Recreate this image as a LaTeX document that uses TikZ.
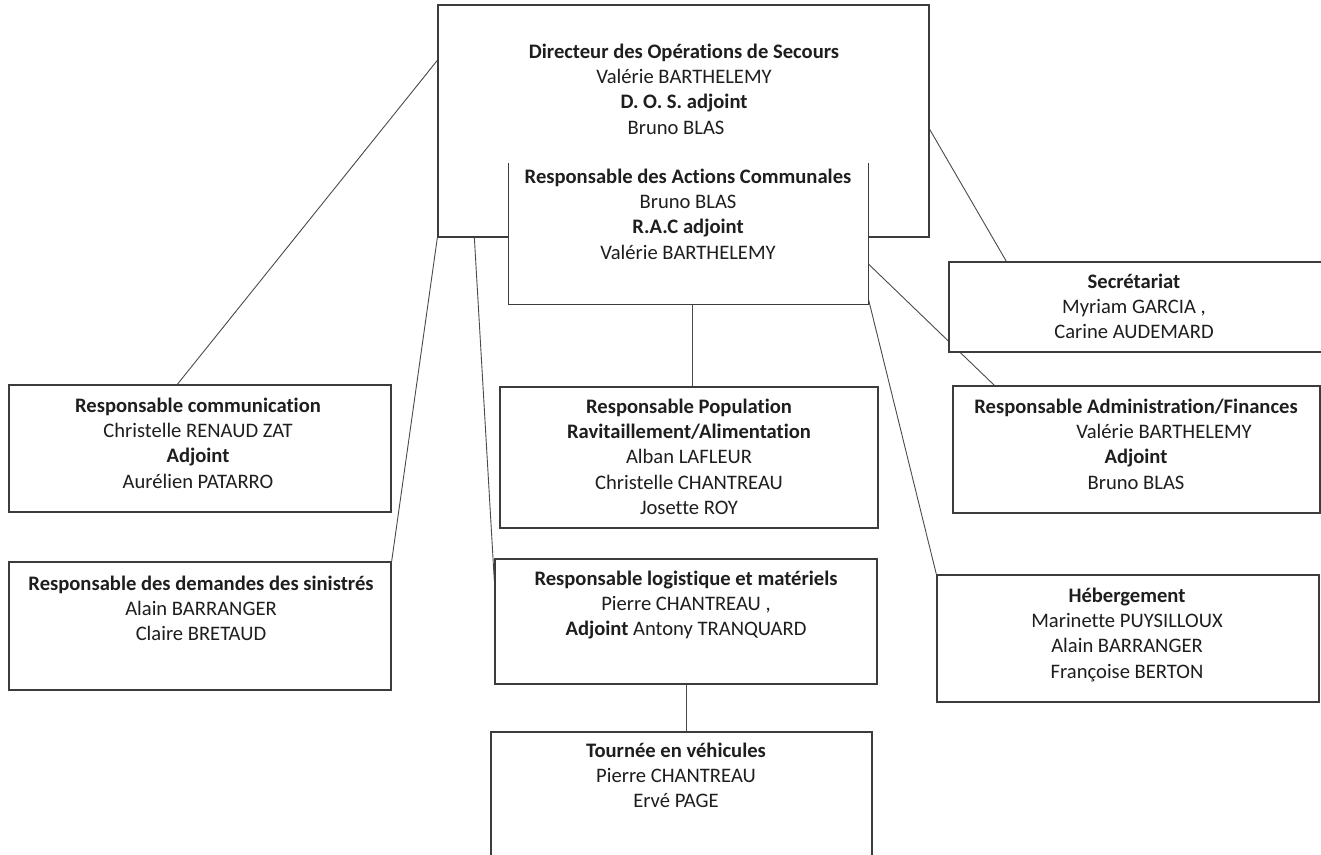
\documentclass[tikz,border=0pt]{standalone}
\usepackage{fontspec}
\setmainfont{Carlito}[Ligatures=NoCommon]
\usetikzlibrary{backgrounds}
\definecolor{boxline}{HTML}{3C3C3C}
\definecolor{conn}{HTML}{4A4A4A}
\definecolor{txtcol}{HTML}{1E1E1E}
\begin{document}
\begin{tikzpicture}[x=1pt,y=-1pt,
  box/.style={draw=boxline, line width=1.3pt, fill=white, inner sep=0pt, rectangle},
  openbox/.style={draw=none, fill=white, inner sep=0pt, rectangle},
  txt/.style={anchor=north, inner sep=0pt, align=center, text=txtcol,
    font=\fontsize{20.6}{25.3}\selectfont},
  link/.style={draw=conn, line width=0.9pt}]
\useasboundingbox (0,0) rectangle (1321,854);

% Directeur des Operations de Secours
\node[box, minimum width=491pt, minimum height=232pt] (dos) at (683.5,121) {};
\node[txt] (dost) at (684,40.3) {\strut\textbf{Directeur des Opérations de Secours}\\Valérie BARTHELEMY\\\textbf{D. O. S. adjoint}\\Bruno BLAS\hspace*{16pt}};

% Responsable des Actions Communales (overlapping, no top border)
\node[openbox, minimum width=359pt, minimum height=141pt] (rac) at (688.5,233.5) {};
\draw[draw=boxline, line width=1.3pt] (rac.north west) -- (rac.south west) -- (rac.south east) -- (rac.north east);
\node[txt] (ract) at (688,165.3) {\strut\textbf{Responsable des Actions Communales}\\Bruno BLAS\\\textbf{R.A.C adjoint}\\Valérie BARTHELEMY};

% Responsable communication
\node[box, minimum width=382pt, minimum height=127pt] (comm) at (200,448.5) {};
\node[txt] (commt) at (198,394.3) {\strut\textbf{Responsable communication}\\Christelle RENAUD ZAT\\\textbf{Adjoint}\\Aurélien PATARRO};

% Responsable des demandes des sinistres
\node[box, minimum width=382pt, minimum height=128pt] (dem) at (200,626) {};
\node[txt] (demt) at (201,572.3) {\strut\textbf{Responsable des demandes des sinistrés}\\Alain BARRANGER\\Claire BRETAUD};

% Responsable Population
\node[box, minimum width=378pt, minimum height=141pt] (pop) at (689,457.5) {};
\node[txt] (popt) at (689,395.3) {\strut\textbf{Responsable Population}\\\textbf{Ravitaillement/Alimentation}\\Alban LAFLEUR\\Christelle CHANTREAU\\Josette ROY};

% Responsable logistique
\node[box, minimum width=382pt, minimum height=125pt] (logi) at (686,621.5) {};
\node[txt] (logit) at (686,567.3) {\strut\textbf{Responsable logistique et matériels}\\Pierre CHANTREAU ,\\\textbf{Adjoint} Antony TRANQUARD};

% Tournee en vehicules
\node[box, minimum width=381pt, minimum height=130pt] (tour) at (681.5,797) {};
\node[txt] (tourt) at (676,739.3) {\strut\textbf{Tournée en véhicules}\\Pierre CHANTREAU\\Ervé PAGE};

% Secretariat
\node[box, minimum width=381pt, minimum height=90pt] (sec) at (1139.5,307) {};
\node[txt] (sect) at (1134,270.3) {\strut\textbf{Secrétariat}\\Myriam GARCIA ,\\Carine AUDEMARD};

% Responsable Administration/Finances
\node[box, minimum width=367pt, minimum height=127pt] (adm) at (1136.5,449.5) {};
\node[txt] (admt) at (1136,395.3) {\strut\textbf{Responsable Administration/Finances}\\\hspace*{56pt}Valérie BARTHELEMY\\\textbf{Adjoint}\\Bruno BLAS};

% Hebergement
\node[box, minimum width=382pt, minimum height=127pt] (heb) at (1128,638.5) {};
\node[txt] (hebt) at (1127,584.3) {\strut\textbf{Hébergement}\\Marinette PUYSILLOUX\\Alain BARRANGER\\Françoise BERTON};

% Connectors
\begin{scope}[on background layer]
\draw[link] ([yshift=-56pt]dos.north west) -- ([xshift=169pt]comm.north west);
\draw[link] (dos.south west) -- (dem.north east);
\draw[link] ([xshift=37pt]dos.south west) -- ([yshift=-23pt]logi.north west);
\draw[link] ([yshift=-125pt]dos.north east) -- ([xshift=58pt]sec.north west);
\draw[link] ([yshift=-101pt]rac.north east) -- ([xshift=42pt]adm.north west);
\draw[link] ([yshift=6pt]rac.south east) -- (heb.north west);
\draw[link] ([xshift=3.5pt]rac.south) -- ([xshift=3.5pt]rac.south |- pop.north);
\draw[link] (logi.south) -- (logi.south |- tour.north);
\end{scope}
\end{tikzpicture}
\end{document}
